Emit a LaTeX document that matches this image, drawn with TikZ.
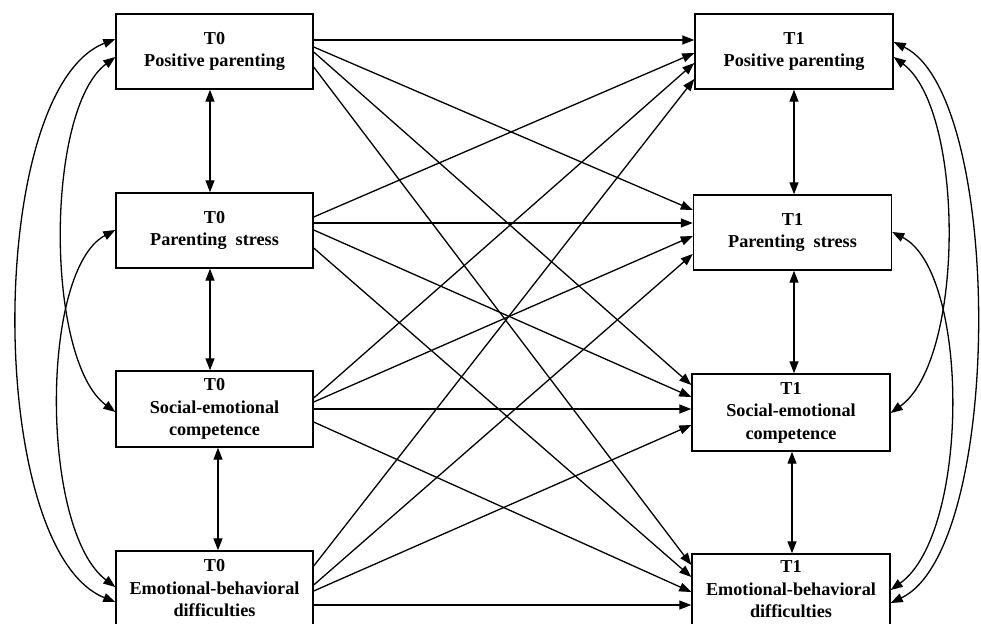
\documentclass[tikz,border=0pt]{standalone}
\usepackage{fontspec}
\setmainfont{Liberation Serif}
\usetikzlibrary{arrows.meta}
\begin{document}
\begin{tikzpicture}[x=1pt,y=-1pt,
  box/.style={draw, line width=1.4pt, inner sep=0pt, minimum width=198pt, minimum height=75pt, align=center,
    font=\fontsize{18.2}{22.5}\selectfont\bfseries},
  con/.style={line width=1.3pt, -{Triangle[length=12pt,width=9pt]}},
  bi/.style={line width=1.3pt, {Triangle[length=12pt,width=9pt]}-{Triangle[length=12pt,width=9pt]}}]
\useasboundingbox (0,0) rectangle (981,623);
\clip (0,0) rectangle (981,623);
% left column (T0)
\node[box, minimum width=197pt] (L1) at (214.5,51.5) {T0\\Positive parenting};
\node[box, minimum width=197pt] (L2) at (214.5,230.5) {T0\\Parenting\ \ stress};
\node[box, minimum width=197pt, minimum height=76pt] (L3) at (214.5,409) {T0\\Social-emotional\\competence};
\node[box, minimum width=197pt, minimum height=75pt] (L4) at (214.5,588.5) {T0\\Emotional-behavioral\\difficulties};
% right column (T1)
\node[box] (R1) at (794,51.5) {T1\\Positive parenting};
\node[box] (R2) at (792.5,232.5) {T1\\Parenting\ \ stress};
\node[box, minimum height=77pt] (R3) at (791,412.5) {T1\\Social-emotional\\competence};
\node[box, minimum height=71pt] (R4) at (791,589.5) {T1\\Emotional-behavioral\\difficulties};
% cross-lagged paths
\draw[con] (L1.east |- 0,40) -- (R1.west |- 0,40);
\draw[con] (L1.east |- 0,47) -- (R2.west |- 0,210);
\draw[con] (L1.east |- 0,52) -- (R3.west |- 0,385);
\draw[con] (L1.east |- 0,67) -- (R4.west |- 0,565);
\draw[con] (L2.east |- 0,217) -- (R1.west |- 0,53);
\draw[con] (L2.east |- 0,223) -- (R2.west |- 0,223);
\draw[con] (L2.east |- 0,230) -- (R3.west |- 0,397);
\draw[con] (L2.east |- 0,248) -- (R4.west |- 0,577);
\draw[con] (L3.east |- 0,398) -- (R1.west |- 0,63);
\draw[con] (L3.east |- 0,402) -- (R2.west |- 0,236);
\draw[con] (L3.east |- 0,409) -- (R3.west |- 0,409);
\draw[con] (L3.east |- 0,422) -- (R4.west |- 0,592);
\draw[con] (L4.east |- 0,566) -- (R1.west |- 0,79);
\draw[con] (L4.east |- 0,585) -- (R2.west |- 0,254);
\draw[con] (L4.east |- 0,591) -- (R3.west |- 0,425);
\draw[con] (L4.east |- 0,605) -- (R4.west |- 0,605);
% within-time correlations (straight)
\draw[bi] ([xshift=-4.5pt]L1.south) -- ([xshift=-4.5pt]L2.north);
\draw[bi] ([xshift=-4.5pt]L2.south) -- ([xshift=-4.5pt]L3.north);
\draw[bi] ([xshift=3.5pt]L3.south) -- ([xshift=3.5pt]L4.north);
\draw[bi] (R1.south) -- (R2.north -| R1.south);
\draw[bi] (R2.south -| R1.south) -- (R3.north -| R1.south);
\draw[bi] ([xshift=1pt]R3.south) -- ([xshift=1pt]R4.north);
% within-time correlations (curved)
\draw[bi] (L1.west |- 0,39) .. controls (-15,90) and (-15,550) .. (L4.west |- 0,602);
\draw[bi] (L1.west |- 0,57) .. controls (45,110) and (45,360) .. (L3.west |- 0,412);
\draw[bi] (L2.west |- 0,230) .. controls (40,270) and (40,530) .. (L4.west |- 0,587);
\draw[bi] (R1.east |- 0,42) .. controls (1004,96) and (1004,549) .. (R4.east |- 0,603);
\draw[bi] (R1.east |- 0,57) .. controls (965,110) and (965,360) .. (R3.east |- 0,413);
\draw[bi] (R2.east |- 0,232) .. controls (970,272) and (970,533) .. (R4.east |- 0,590);
\end{tikzpicture}
\end{document}
